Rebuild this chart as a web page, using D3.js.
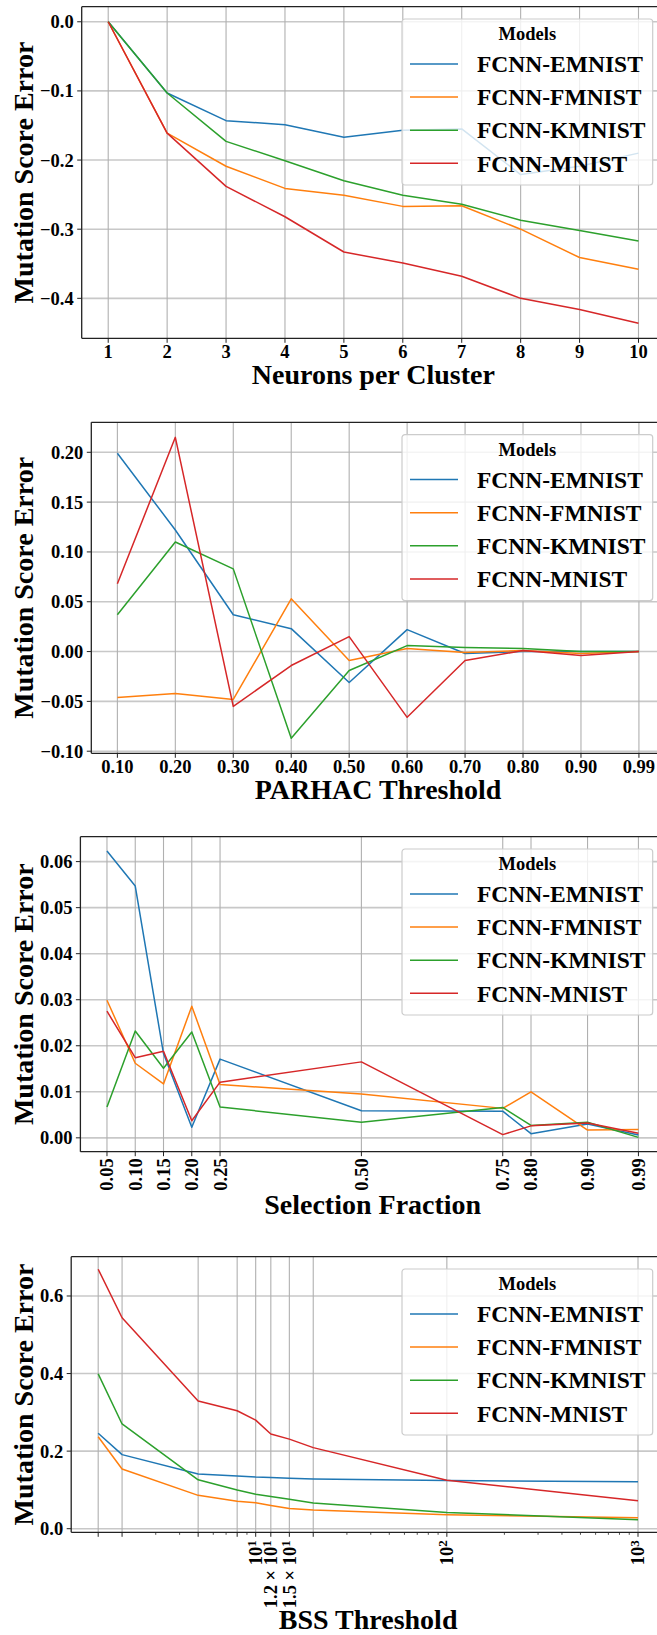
<!DOCTYPE html>
<html>
<head>
<meta charset="utf-8">
<script src="https://cdn.jsdelivr.net/npm/d3@7"></script>
<style>
  body { margin: 0; background: #fff; }
  svg text { font-family: "Liberation Serif", "Times New Roman", serif; font-weight: bold; fill: #000; }
</style>
</head>
<body>
<div id="chart"></div>
<script>
// models and colours shared by the four panels
const models = ["FCNN-EMNIST", "FCNN-FMNIST", "FCNN-KMNIST", "FCNN-MNIST"]
const colors = ["#1f77b4", "#ff7f0e", "#2ca02c", "#d62728"]

// panel 1: neurons per cluster
const neurons = [1, 2, 3, 4, 5, 6, 7, 8, 9, 10]
const neuronsEmnist = [0, -0.103, -0.143, -0.149, -0.167, -0.157, -0.155, -0.221, -0.209, -0.190]
const neuronsFmnist = [0, -0.161, -0.209, -0.241, -0.251, -0.267, -0.266, -0.300, -0.341, -0.358]
const neuronsKmnist = [0, -0.103, -0.173, -0.201, -0.230, -0.251, -0.264, -0.287, -0.302, -0.317]
const neuronsMnist = [0, -0.161, -0.238, -0.282, -0.333, -0.349, -0.368, -0.400, -0.416, -0.436]
const neuronsYTicks = [0, -0.1, -0.2, -0.3, -0.4]

// panel 2: PARHAC threshold (categorical)
const parhac = ["0.10", "0.20", "0.30", "0.40", "0.50", "0.60", "0.70", "0.80", "0.90", "0.99"]
const parhacEmnist = [0.199, 0.122, 0.037, 0.023, -0.031, 0.022, -0.002, 0, 0, 0]
const parhacFmnist = [-0.046, -0.042, -0.048, 0.053, -0.009, 0.003, -0.001, 0.001, -0.002, 0]
const parhacKmnist = [0.037, 0.110, 0.083, -0.087, -0.019, 0.006, 0.004, 0.003, 0, 0]
const parhacMnist = [0.068, 0.215, -0.055, -0.014, 0.015, -0.066, -0.009, 0.001, -0.004, 0]
const parhacYTicks = [-0.10, -0.05, 0, 0.05, 0.10, 0.15, 0.20]

// panel 3: selection fraction
const fractions = [0.05, 0.10, 0.15, 0.20, 0.25, 0.50, 0.75, 0.80, 0.90, 0.99]
const fractionEmnist = [0.0623, 0.0547, 0.0183, 0.0023, 0.0171, 0.0059, 0.0058, 0.0009, 0.0030, 0.0006]
const fractionFmnist = [0.0299, 0.0162, 0.0117, 0.0286, 0.0116, 0.0095, 0.0064, 0.0100, 0.0017, 0.0018]
const fractionKmnist = [0.0067, 0.0232, 0.0151, 0.0230, 0.0067, 0.0034, 0.0066, 0.0027, 0.0034, 0.0001]
const fractionMnist = [0.0275, 0.0174, 0.0188, 0.0037, 0.0121, 0.0165, 0.0007, 0.0026, 0.0032, 0.0010]
const fractionYTicks = [0, 0.01, 0.02, 0.03, 0.04, 0.05, 0.06]

// panel 4: BSS threshold (log x)
const bss = [1.5, 2, 5, 8, 10, 12, 15, 20, 100, 1000]
const bssEmnist = [0.246, 0.191, 0.141, 0.136, 0.133, 0.132, 0.130, 0.128, 0.124, 0.121]
const bssFmnist = [0.237, 0.154, 0.086, 0.071, 0.067, 0.060, 0.052, 0.048, 0.036, 0.028]
const bssKmnist = [0.399, 0.270, 0.126, 0.100, 0.089, 0.083, 0.076, 0.066, 0.042, 0.023]
const bssMnist = [0.669, 0.544, 0.329, 0.304, 0.280, 0.244, 0.231, 0.209, 0.125, 0.072]
const bssYTicks = [0, 0.2, 0.4, 0.6]
// only some of the BSS ticks carry a label: "mantissa|exponent"
const bssTickLabels = ["", "", "", "", "|1", "1.2|1", "1.5|1", "", "|2", "|3"]

const width = 657
const height = 1635
const svg = d3.select("div#chart").append("svg").attr("width", width).attr("height", height)

// matplotlib style 5% padding around the data
function padded(lo, hi) {
    const m = (hi - lo) * 0.05
    return [lo - m, hi + m]
}

const panels = [
    {
        top: 6.7, bottom: 338.3, left: 81.7, right: 665,
        xs: neurons.map((d, i) => i), xDomain: padded(0, 9), xLog: false,
        xTickPos: neurons.map((d, i) => i), xTickText: neurons.map(String), rotate: false,
        series: [neuronsEmnist, neuronsFmnist, neuronsKmnist, neuronsMnist],
        yTicks: neuronsYTicks, yFmt: d3.format(".1f"),
        xLabel: "Neurons per Cluster", xLabelOff: 45.6
    },
    {
        top: 422.3, bottom: 753.3, left: 91.3, right: 665,
        xs: parhac.map((d, i) => i), xDomain: padded(0, 9), xLog: false,
        xTickPos: parhac.map((d, i) => i), xTickText: parhac, rotate: false,
        series: [parhacEmnist, parhacFmnist, parhacKmnist, parhacMnist],
        yTicks: parhacYTicks, yFmt: d3.format(".2f"),
        xLabel: "PARHAC Threshold", xLabelOff: 45.6
    },
    {
        top: 836.7, bottom: 1151.7, left: 80.4, right: 665,
        xs: fractions, xDomain: padded(d3.min(fractions), d3.max(fractions)), xLog: false,
        xTickPos: fractions, xTickText: fractions.map(d3.format(".2f")), rotate: true,
        series: [fractionEmnist, fractionFmnist, fractionKmnist, fractionMnist],
        yTicks: fractionYTicks, yFmt: d3.format(".2f"),
        xLabel: "Selection Fraction", xLabelOff: 62.3
    },
    {
        top: 1256.7, bottom: 1532.3, left: 71.2, right: 665,
        xs: bss, xDomain: padded(Math.log10(1.5), 3).map(v => Math.pow(10, v)), xLog: true,
        xTickPos: bss, xTickText: bssTickLabels, rotate: true,
        series: [bssEmnist, bssFmnist, bssKmnist, bssMnist],
        yTicks: bssYTicks, yFmt: d3.format(".1f"),
        xLabel: "BSS Threshold", xLabelOff: 96.7
    }
]

panels.forEach(drawPanel)

function drawPanel(p) {
    const g = svg.append("g")
    const x = (p.xLog ? d3.scaleLog() : d3.scaleLinear()).domain(p.xDomain).range([p.left, p.right])
    const all = p.series.flat()
    const y = d3.scaleLinear().domain(padded(d3.min(all), d3.max(all))).range([p.bottom, p.top])

    // grid
    const grid = g.append("g")
    grid.selectAll("line.hg").data(p.yTicks).enter().append("line")
        .attr("x1", p.left).attr("x2", p.right)
        .attr("y1", d => y(d)).attr("y2", d => y(d))
        .attr("stroke", "#c8c8c8").attr("stroke-width", 1.6)
    grid.selectAll("line.vg").data(p.xTickPos).enter().append("line")
        .attr("x1", d => x(d)).attr("x2", d => x(d))
        .attr("y1", p.top).attr("y2", p.bottom)
        .attr("stroke", "#b0b0b0").attr("stroke-width", 1.1)

    // series
    const line = d3.line().x((d, i) => x(p.xs[i])).y(d => y(d))
    p.series.forEach((s, k) => {
        g.append("path").datum(s)
            .attr("d", line)
            .attr("fill", "none")
            .attr("stroke", colors[k])
            .attr("stroke-width", 1.5)
            .attr("stroke-linejoin", "round")
    })

    // legend
    const lw = 250.7, lh = 166
    const lx = p.right - 12.3 - lw, ly = p.top + 12.3
    const leg = g.append("g").attr("transform", `translate(${lx},${ly})`)
    leg.append("rect").attr("width", lw).attr("height", lh).attr("rx", 3)
        .attr("fill", "#fff").attr("fill-opacity", 0.8)
        .attr("stroke", "#cccccc").attr("stroke-width", 1.2)
    leg.append("text").attr("x", lw / 2).attr("y", 21)
        .attr("text-anchor", "middle").style("font-size", "18.5px").text("Models")
    models.forEach((m, k) => {
        const yy = 45 + k * 33.1
        leg.append("line").attr("x1", 8).attr("x2", 56).attr("y1", yy).attr("y2", yy)
            .attr("stroke", colors[k]).attr("stroke-width", 1.5)
        leg.append("text").attr("x", 75).attr("y", yy + 8.2)
            .style("font-size", "23.5px").text(m)
    })

    // spines
    g.append("line").attr("x1", p.left).attr("x2", p.right).attr("y1", p.top).attr("y2", p.top)
        .attr("stroke", "#222").attr("stroke-width", 1.3)
    g.append("line").attr("x1", p.left).attr("x2", p.right).attr("y1", p.bottom).attr("y2", p.bottom)
        .attr("stroke", "#222").attr("stroke-width", 1.3)
    g.append("line").attr("x1", p.left).attr("x2", p.left).attr("y1", p.top).attr("y2", p.bottom)
        .attr("stroke", "#222").attr("stroke-width", 1.3)

    // y ticks
    const yt = g.append("g")
    p.yTicks.forEach(t => {
        yt.append("line").attr("x1", p.left - 4.5).attr("x2", p.left)
            .attr("y1", y(t)).attr("y2", y(t)).attr("stroke", "#222").attr("stroke-width", 1)
        yt.append("text").attr("x", p.left - 8).attr("y", y(t)).attr("dy", "0.35em")
            .attr("text-anchor", "end").style("font-size", "18.5px").text(p.yFmt(t))
    })

    // minor ticks on the log axis
    if (p.xLog) {
        x.ticks().filter(v => !p.xs.includes(v) && Math.abs(Math.log10(v) % 1) > 1e-9)
            .forEach(v => {
                g.append("line").attr("x1", x(v)).attr("x2", x(v))
                    .attr("y1", p.bottom).attr("y2", p.bottom + 2.5)
                    .attr("stroke", "#222").attr("stroke-width", 0.8)
            })
    }

    // x ticks
    const xt = g.append("g")
    p.xTickPos.forEach((t, i) => {
        xt.append("line").attr("x1", x(t)).attr("x2", x(t))
            .attr("y1", p.bottom).attr("y2", p.bottom + 4.5).attr("stroke", "#222").attr("stroke-width", 1)
        const label = p.xTickText[i]
        if (!label) return
        if (!p.rotate) {
            xt.append("text").attr("x", x(t)).attr("y", p.bottom + 20)
                .attr("text-anchor", "middle").style("font-size", "18.5px").text(label)
        } else if (!p.xLog) {
            xt.append("text")
                .attr("transform", `translate(${x(t)},${p.bottom + 6.6}) rotate(-90)`)
                .attr("dy", "0.35em").attr("text-anchor", "end")
                .style("font-size", "18.5px").text(label)
        } else {
            const [mant, exp] = label.split("|")
            const txt = xt.append("text")
                .attr("transform", `translate(${x(t)},${p.bottom + 8}) rotate(-90)`)
                .attr("dy", "0.35em").attr("text-anchor", "end")
                .style("font-size", "18.5px")
            if (mant) txt.append("tspan").text(mant + " × ")
            txt.append("tspan").text("10")
            txt.append("tspan").attr("dy", "-0.45em").style("font-size", "13px").text(exp)
        }
    })

    // axis titles
    g.append("text").attr("x", (p.left + p.right) / 2).attr("y", p.bottom + p.xLabelOff)
        .attr("text-anchor", "middle").style("font-size", "28px").text(p.xLabel)
    g.append("text").attr("transform", `translate(33,${(p.top + p.bottom) / 2}) rotate(-90)`)
        .attr("text-anchor", "middle").style("font-size", "28px").text("Mutation Score Error")
}
</script>
</body>
</html>
